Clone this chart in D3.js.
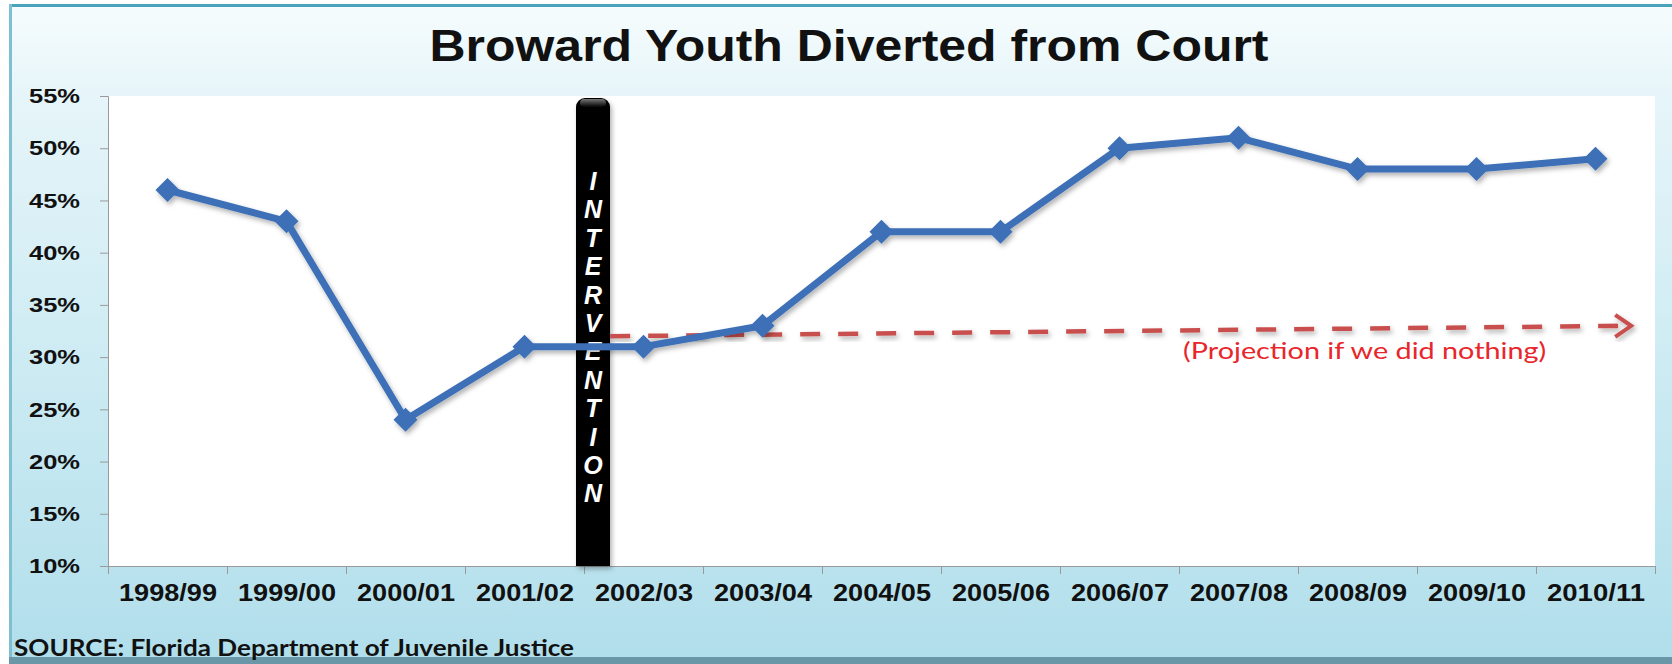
<!DOCTYPE html>
<html>
<head>
<meta charset="utf-8">
<script src="https://cdn.jsdelivr.net/npm/d3@7/dist/d3.min.js"></script>
<style>
  html, body { margin: 0; padding: 0; background: #ffffff; }
  svg { display: block; }
  .os path, .os line { stroke: #9a9a9a; }
  .os text { font-family: Arial, "Liberation Sans", sans-serif; font-weight: bold; fill: #111; }
</style>
</head>
<body>
<div id="okvir"></div>
<script>
// podaci
const godine = ["1998/99","1999/00","2000/01","2001/02","2002/03","2003/04","2004/05",
  "2005/06","2006/07","2007/08","2008/09","2009/10","2010/11"]
const postotci = [46, 43, 24, 31, 31, 33, 42, 42, 50, 51, 48, 48, 49]
const yTickovi = [10, 15, 20, 25, 30, 35, 40, 45, 50, 55]
// projekcija: polozaj u jedinicama kategorija (0 = lijevi rub) i vrijednost
const projPolozaj = [4.22, 12.8]
const projVrijednost = [32, 33]
const intervencijaIza = 4   // granica izmedu 2001/02 i 2002/03
const intervencijaTekst = "INTERVENTION"

function crtaj() {
  const dim = {
    sirina: 1672, visina: 664,
    lijevo: 108, desno: 1655, gore: 96, dolje: 566,
  }

  const svg = d3.select("#okvir").append("svg")
    .attr("width", dim.sirina)
    .attr("height", dim.visina)

  const defs = svg.append("defs")
  const grad = defs.append("linearGradient")
    .attr("id", "pozadina").attr("x1", 0).attr("y1", 0).attr("x2", 0).attr("y2", 1)
  grad.append("stop").attr("offset", "0%").attr("stop-color", "#f6fcfd")
  grad.append("stop").attr("offset", "14%").attr("stop-color", "#e6f5f9")
  grad.append("stop").attr("offset", "55%").attr("stop-color", "#cdebf3")
  grad.append("stop").attr("offset", "100%").attr("stop-color", "#b0deeb")

  const sjaj = defs.append("linearGradient")
    .attr("id", "sjaj").attr("x1", 0).attr("y1", 0).attr("x2", 0).attr("y2", 1)
  sjaj.append("stop").attr("offset", "0%").attr("stop-color", "#777")
  sjaj.append("stop").attr("offset", "100%").attr("stop-color", "#000")

  const sjena = defs.append("filter").attr("id", "sjena")
    .attr("x", "-20%").attr("y", "-20%").attr("width", "140%").attr("height", "140%")
  sjena.append("feDropShadow")
    .attr("dx", 2).attr("dy", 3).attr("stdDeviation", 2.5)
    .attr("flood-color", "#000").attr("flood-opacity", 0.3)

  // okvir slajda
  svg.append("rect")
    .attr("x", 9).attr("y", 4).attr("width", dim.sirina - 9).attr("height", dim.visina - 4)
    .attr("fill", "url(#pozadina)")
  svg.append("rect")
    .attr("x", 9).attr("y", 4).attr("width", dim.sirina - 9).attr("height", 3)
    .attr("fill", "#4aa3bd")
  svg.append("rect")
    .attr("x", 9).attr("y", 4).attr("width", 3).attr("height", dim.visina - 4)
    .attr("fill", "#7fbfd2")
  svg.append("rect")
    .attr("x", 9).attr("y", dim.visina - 7).attr("width", dim.sirina - 9).attr("height", 7)
    .attr("fill", "#6a97a8")

  // naslov
  svg.append("text")
    .attr("x", 849).attr("y", 61)
    .attr("text-anchor", "middle")
    .attr("textLength", 839).attr("lengthAdjust", "spacingAndGlyphs")
    .style("font-family", "Arial, 'Liberation Sans', sans-serif")
    .style("font-weight", "bold").style("font-size", "44px").style("fill", "#111")
    .text("Broward Youth Diverted from Court")

  // povrsina grafa
  svg.append("rect")
    .attr("x", dim.lijevo).attr("y", dim.gore)
    .attr("width", dim.desno - dim.lijevo).attr("height", dim.dolje - dim.gore)
    .attr("fill", "#ffffff")

  // skale
  const xSkala = d3.scaleLinear().domain([0, godine.length]).range([dim.lijevo, dim.desno])
  const xSredina = i => xSkala(i + 0.5)
  const ySkala = d3.scaleLinear().domain([10, 55]).range([dim.dolje, dim.gore])

  // osi
  const yOs = svg.append("g")
    .attr("class", "os")
    .attr("transform", `translate(${dim.lijevo},0)`)
    .call(d3.axisLeft(ySkala).tickValues(yTickovi).tickSize(8).tickPadding(20)
      .tickFormat(d => d + "%"))
  yOs.selectAll("text").style("font-size", "21px")
    .attr("textLength", 51).attr("lengthAdjust", "spacingAndGlyphs")

  svg.append("g")
    .attr("class", "os")
    .attr("transform", `translate(0,${dim.dolje})`)
    .call(d3.axisBottom(xSkala).tickValues(d3.range(0, godine.length + 1)).tickSize(8)
      .tickFormat(""))

  const xOznake = svg.append("g")
    .attr("class", "os")
    .attr("transform", `translate(0,${dim.dolje})`)
    .call(d3.axisBottom(d3.scalePoint().domain(godine)
        .range([xSredina(0), xSredina(godine.length - 1)]))
      .tickSize(0).tickPadding(19))
  xOznake.select(".domain").remove()
  xOznake.selectAll("text").style("font-size", "23px")
    .attr("textLength", 98).attr("lengthAdjust", "spacingAndGlyphs")

  // traka intervencije
  const trakaX = xSkala(intervencijaIza) - 8
  const traka = svg.append("g").attr("filter", "url(#sjena)")
  traka.append("rect")
    .attr("x", trakaX).attr("y", 98).attr("width", 34).attr("height", dim.dolje - 98)
    .attr("rx", 9).attr("fill", "#000")
  traka.append("rect")
    .attr("x", trakaX).attr("y", 130).attr("width", 34).attr("height", dim.dolje - 130)
    .attr("fill", "#000")
  traka.append("rect")
    .attr("x", trakaX + 4).attr("y", 99).attr("width", 26).attr("height", 8)
    .attr("rx", 4).attr("fill", "url(#sjaj)")

  svg.append("g").selectAll("text")
    .data(intervencijaTekst.split(""))
    .join("text")
      .attr("x", trakaX + 17)
      .attr("y", (d, i) => 190 + i * 28.4)
      .attr("text-anchor", "middle")
      .style("font-family", "Arial, 'Liberation Sans', sans-serif")
      .style("font-weight", "bold").style("font-style", "italic")
      .style("font-size", "25px").style("fill", "#fff")
      .text(d => d)

  // projekcija
  const projLinija = d3.line()
    .x(d => xSkala(d[0]))
    .y(d => ySkala(d[1]))
  const projTocke = projPolozaj.map((p, i) => [p, projVrijednost[i]])
  const proj = svg.append("g").attr("filter", "url(#sjena)")
  proj.append("path")
    .attr("d", projLinija(projTocke))
    .attr("fill", "none").attr("stroke", "#c8504d").attr("stroke-width", 4.5)
    .attr("stroke-dasharray", "20 18")

  const kraj = projTocke[1]
  const kx = xSkala(kraj[0]), ky = ySkala(kraj[1])
  proj.append("path")
    .attr("d", `M${kx - 16},${ky - 11} L${kx},${ky} L${kx - 16},${ky + 11} M${kx - 14},${ky} L${kx - 28},${ky + 0.1}`)
    .attr("fill", "none").attr("stroke", "#c8504d").attr("stroke-width", 4)
    .attr("stroke-linejoin", "miter")

  svg.append("text")
    .attr("x", xSkala(10.56)).attr("y", 359)
    .attr("text-anchor", "middle")
    .attr("textLength", 363).attr("lengthAdjust", "spacingAndGlyphs")
    .style("font-family", "Lato, 'Open Sans', sans-serif")
    .style("font-size", "23px").style("fill", "#e8262b")
    .text("(Projection if we did nothing)")

  // linija podataka
  const generatorLinije = d3.line()
    .x((d, i) => xSredina(i))
    .y(d => ySkala(d))

  const serija = svg.append("g").attr("filter", "url(#sjena)")
  serija.append("path")
    .attr("d", generatorLinije(postotci))
    .attr("fill", "none").attr("stroke", "#3c6fb7").attr("stroke-width", 7)
    .attr("stroke-linejoin", "round")

  serija.selectAll("path.romb")
    .data(postotci)
    .join("path")
      .attr("class", "romb")
      .attr("d", (d, i) => {
        const x = xSredina(i), y = ySkala(d), r = 12
        return `M${x},${y - r} L${x + r},${y} L${x},${y + r} L${x - r},${y} Z`
      })
      .attr("fill", "#3c6fb7")

  // izvor
  svg.append("text")
    .attr("x", 14).attr("y", 656)
    .attr("textLength", 560).attr("lengthAdjust", "spacingAndGlyphs")
    .style("font-family", "Lato, 'Open Sans', sans-serif")
    .style("font-weight", "bold").style("font-size", "22px").style("fill", "#111")
    .text("SOURCE: Florida Department of Juvenile Justice")
}
crtaj()
</script>
</body>
</html>
